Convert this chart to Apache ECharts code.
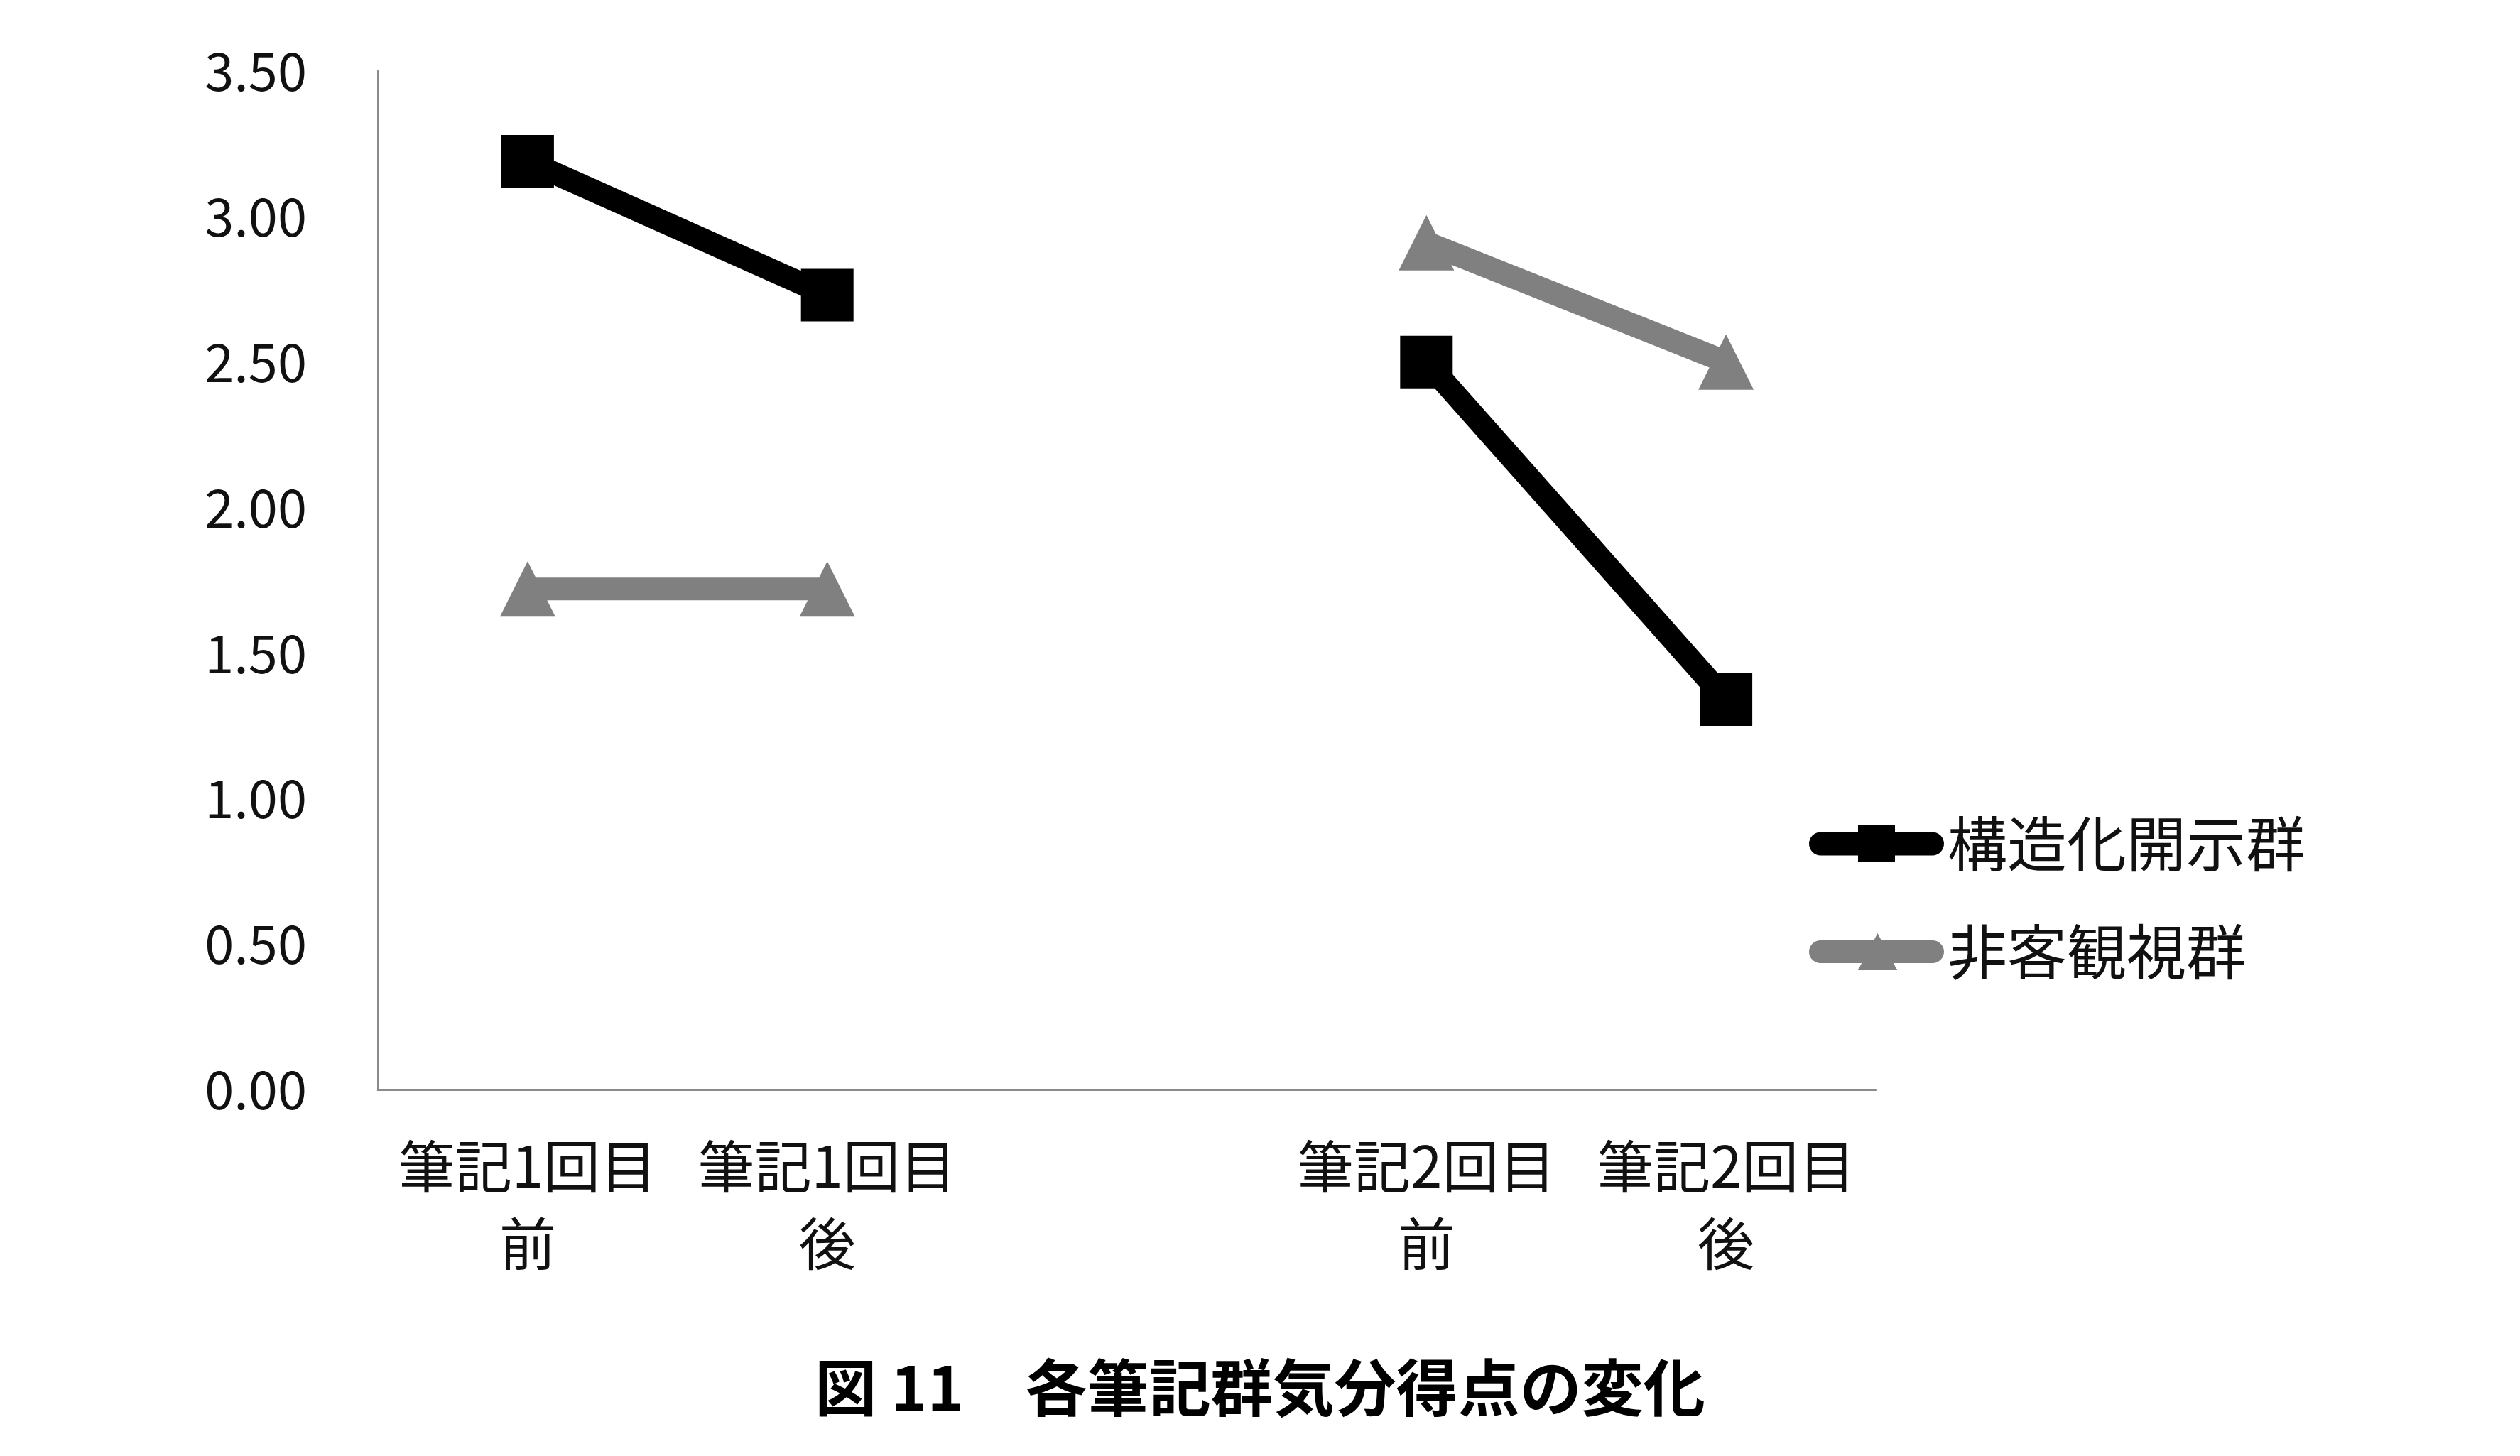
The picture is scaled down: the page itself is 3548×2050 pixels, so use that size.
<!DOCTYPE html>
<html>
<head>
<meta charset="utf-8">
<script src="https://cdn.jsdelivr.net/npm/echarts@6/dist/echarts.min.js"></script>
<style>
html,body{margin:0;padding:0;background:#fff;}
#c{width:3548px;height:2050px;}
</style>
</head>
<body>
<div id="c"></div>
<script>
const categories = ['筆記1回目\n前', '筆記1回目\n後', '', '筆記2回目\n前', '筆記2回目\n後'];
const seriesNames = ['構造化開示群', '非客観視群'];
const structuredValues = [3.19, 2.73, null, 2.50, 1.34];
const nonObjectiveValues = [1.72, 1.72, null, 2.91, 2.50];
const yTicks = [0, 0.5, 1, 1.5, 2, 2.5, 3, 3.5];
const titleText = '図 11　各筆記群気分得点の変化';

// legend icon shapes (thick line with round caps + marker)
const iconSquareLine = 'path://M16.5 9.5 L173.5 9.5 A16.5 16.5 0 0 1 173.5 42.5 L16.5 42.5 A16.5 16.5 0 0 1 16.5 9.5 Z M69 0 L121 0 L121 52 L69 52 Z';
const iconTriangleLine = 'path://M16.5 10 L173.5 10 A16 16 0 0 1 173.5 42 L16.5 42 A16 16 0 0 1 16.5 10 Z M96.5 0 L124 52 L69 52 Z';

const FONT = '"Noto Sans CJK JP", "Noto Sans", sans-serif';
const chart = echarts.init(document.getElementById('c'), null, {renderer: 'canvas'});
chart.setOption({
  backgroundColor: '#ffffff',
  animation: false,
  title: {
    text: titleText,
    left: 'center',
    top: 1905,
    textStyle: {fontFamily: FONT, fontSize: 87, fontWeight: 'bold', color: '#000', lineHeight: 87}
  },
  legend: {
    orient: 'vertical',
    left: 2542,
    top: 1141,
    itemWidth: 190,
    itemHeight: 52,
    itemGap: 68,
    symbolKeepAspect: false,
    itemStyle: {borderWidth: 0},
    data: [
      {name: seriesNames[0], icon: iconSquareLine},
      {name: seriesNames[1], icon: iconTriangleLine}
    ],
    textStyle: {fontFamily: FONT, fontSize: 84, color: '#111', lineHeight: 52}
  },
  grid: {left: 532, right: 907, top: 100, bottom: 516},
  xAxis: {
    type: 'category',
    data: categories,
    boundaryGap: true,
    axisTick: {show: false},
    axisLine: {show: true, lineStyle: {color: '#8a8a8a', width: 3}},
    axisLabel: {interval: 0, fontFamily: FONT, fontSize: 80, lineHeight: 109, margin: 53, color: '#111'},
    splitLine: {show: false}
  },
  yAxis: {
    type: 'value',
    min: yTicks[0],
    max: yTicks[yTicks.length - 1],
    interval: 0.5,
    axisTick: {show: false},
    axisLine: {show: true, lineStyle: {color: '#8a8a8a', width: 3}},
    axisLabel: {fontFamily: FONT, fontSize: 74, margin: 100, color: '#111', formatter: v => v.toFixed(2)},
    splitLine: {show: false}
  },
  series: [
    {
      name: seriesNames[0],
      type: 'line',
      data: structuredValues,
      connectNulls: false,
      symbol: 'rect',
      symbolSize: 74,
      color: '#000000',
      itemStyle: {color: '#000000'},
      lineStyle: {color: '#000000', width: 32}
    },
    {
      name: seriesNames[1],
      type: 'line',
      data: nonObjectiveValues,
      connectNulls: false,
      symbol: 'triangle',
      symbolSize: 78,
      color: '#808080',
      itemStyle: {color: '#808080'},
      lineStyle: {color: '#808080', width: 32}
    }
  ]
});
</script>
</body>
</html>
